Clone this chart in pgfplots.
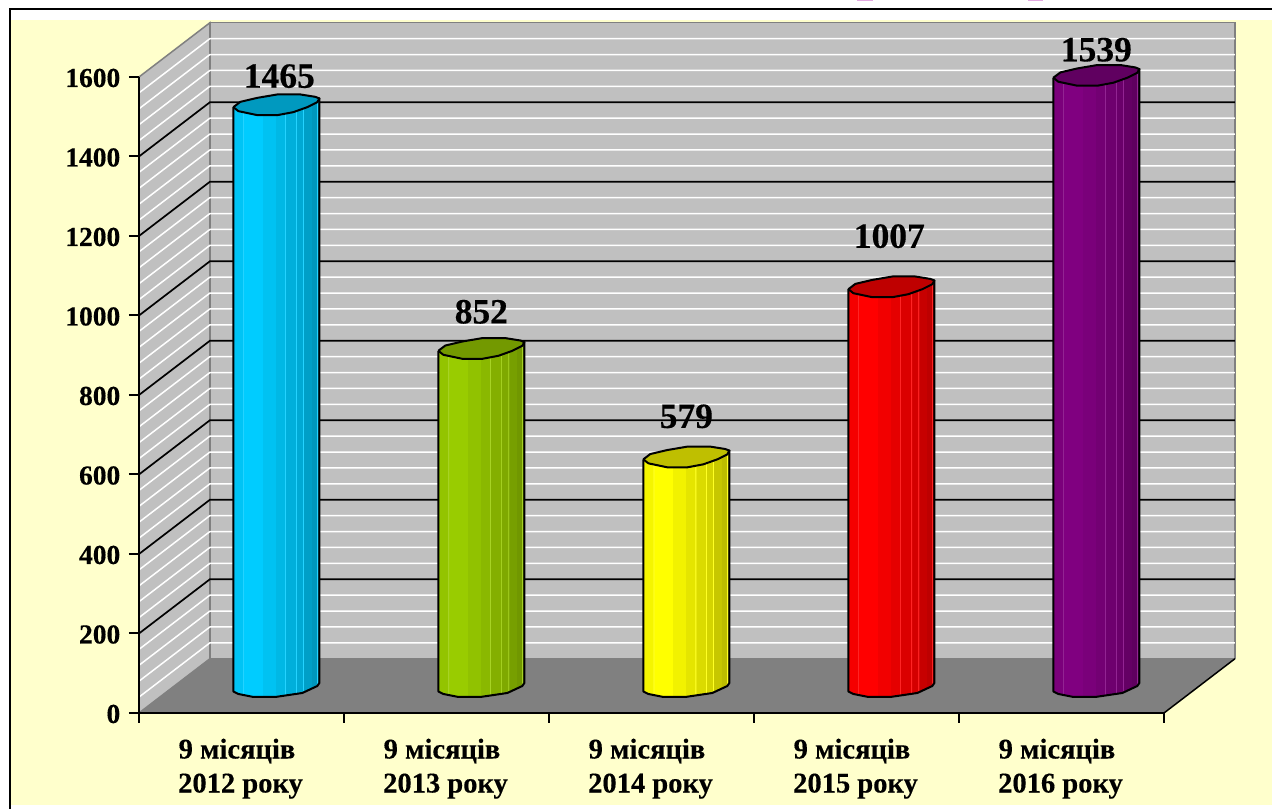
\documentclass[border=0pt]{standalone}
\usepackage{fontspec}
\setmainfont{Liberation Serif}[BoldFeatures={FakeBold=0.35}]
\usepackage{pgfplots}
\usepackage{pgfplotstable}
\pgfplotsset{compat=1.18}
\newlength\px
\setlength\px{0.75pt}

\definecolor{pagecream}{HTML}{FFFFCC}
\definecolor{wallgrey}{HTML}{C0C0C0}
\definecolor{floorgrey}{HTML}{808080}
\definecolor{titletrace}{HTML}{E2A8E0}
\definecolor{cylA}{HTML}{00CCFF}
\definecolor{cylB}{HTML}{99CC00}
\definecolor{cylC}{HTML}{FFFF00}
\definecolor{cylD}{HTML}{FF0000}
\definecolor{cylE}{HTML}{800080}

% Stepped side shading of a cylinder: flat facets, brightest left of centre,
% with a thin pale seam along some of the facet edges.
\newcommand\declarefacets[2]{%
  \pgfdeclarehorizontalshading{#1}{100bp}{%
    color(0bp)=(#2!96!black);
    color(30.5bp)=(#2!96!black);
    color(30.5bp)=(#2!86!white);
    color(31.1bp)=(#2!86!white);
    color(31.1bp)=(#2);
    color(41.9bp)=(#2);
    color(41.9bp)=(#2!95!black);
    color(49.4bp)=(#2!95!black);
    color(49.4bp)=(#2!90!black);
    color(54.9bp)=(#2!90!black);
    color(54.9bp)=(#2!86!white);
    color(55.5bp)=(#2!86!white);
    color(55.5bp)=(#2!86!black);
    color(61.3bp)=(#2!86!black);
    color(61.3bp)=(#2!86!white);
    color(61.9bp)=(#2!86!white);
    color(61.9bp)=(#2!83!black);
    color(65.4bp)=(#2!83!black);
    color(65.4bp)=(#2!86!white);
    color(66.0bp)=(#2!86!white);
    color(66.0bp)=(#2!78!black);
    color(70.3bp)=(#2!78!black);
    color(70.3bp)=(#2!74!black);
    color(73.5bp)=(#2!74!black);
    color(73.5bp)=(#2!86!white);
    color(74.1bp)=(#2!86!white);
    color(74.1bp)=(#2!68!black);
    color(100bp)=(#2!68!black)}}
\declarefacets{facetsA}{cylA}
\declarefacets{facetsB}{cylB}
\declarefacets{facetsC}{cylC}
\declarefacets{facetsD}{cylD}
\declarefacets{facetsE}{cylE}

% Outline of a cylinder's side; dx, dy are offsets from the axis of the cylinder
% and h selects the top (1) or the foot (0).
\pgfplotstableread{
dx  dy    h
-43 -4    1
-43 -6    0
-38 -8.5  0
-23 -11.5 0
-1  -11.5 0
26  -7.5  0
41  -0.5  0
43  2.5   0
43  4.7   1
-43 -4    1
}\sideoutline
% Outline of the cap.
\pgfplotstableread{
dx  dy
-43 -4
-38 -8
-19 -12
1   -12
17  -9
31  -4
41  1
43  4.7
39  6.3
24  8.7
1   8.7
-19 5.3
-36 1.3
-43 -4
}\capoutline
% Path of a grid line over the side wall and the back wall.
\pgfplotstableread{
x     d
0     0
0.346 136.5
5.346 136.5
}\wallpath

% #1 centre x, #2 value, #3 facet shading, #4 cap colour, #5 x shift and #6 y shift of the label (px)
\newcommand\cylinder[6]{%
  \addplot[forget plot, shade, shading=#3, draw=black, line width=2\px, line join=round]
    table[x expr=#1+\thisrow{dx}/205, y expr=69.2+\thisrow{h}*#2+\thisrow{dy}/0.3975] \sideoutline;
  \addplot[forget plot, fill=#4, draw=black, line width=2\px, line join=round]
    table[x expr=#1+\thisrow{dx}/205, y expr=69.2+#2+\thisrow{dy}/0.3975] \capoutline;
  \node[font=\fontsize{26.6}{30}\selectfont\bfseries, xshift=#5\px, yshift=#6\px, inner sep=0pt]
    at (axis cs:#1,{69.2+#2}) {#2};
}
% First line of a category label, set a little to the left of centre
\newcommand\monthsline{9 місяців\hspace*{7\px}}

\begin{document}
\begin{tikzpicture}
  % Slide background
  \path[use as bounding box, fill=white] (0,0) rectangle (1272\px,809\px);
  \fill[pagecream] (11\px,4\px) rectangle (1272\px,789\px);
  \draw[black, line width=2\px] (1272\px,799.5\px) -- (9.5\px,799.5\px) -- (9.5\px,0);
  \fill[titletrace] (857\px,807.5\px) rectangle (873\px,809\px);
  \fill[titletrace] (1028\px,807.5\px) rectangle (1043\px,809\px);

  \begin{axis}[
    at={(139\px,96\px)}, anchor=south west,
    scale only axis, width=1025\px, height=636\px,
    xmin=0, xmax=5, ymin=0, ymax=1600,
    clip=false, axis on top,
    axis x line*=bottom, axis y line*=left,
    axis line style={-, black, line width=2.3\px},
    tick align=outside,
    major tick length=10\px, minor tick length=10\px,
    xtick={0.5,1.5,2.5,3.5,4.5},
    minor xtick={0,1,2,3,4,5},
    major x tick style={draw=none},
    minor x tick style={black, line width=2\px},
    major y tick style={black, line width=2\px},
    ytick={0,200,400,600,800,1000,1200,1400,1600},
    xticklabels={{\monthsline\\2012 року},{\monthsline\\2013 року},{\monthsline\\2014 року},{\monthsline\\2015 року},{\monthsline\\2016 року}},
    xticklabel style={align=center, font=\fontsize{21.4}{25.5}\selectfont\bfseries, yshift=-11\px, xshift=-1\px},
    yticklabel style={font=\fontsize{20.6}{24}\selectfont\bfseries, xshift=-4\px, yshift=-1\px},
    /pgf/number format/assume math mode=true,
    /pgf/number format/1000 sep={},
  ]
    % Back wall, side wall and floor
    \addplot[forget plot, fill=wallgrey, draw=floorgrey, line width=1.5\px]
      coordinates {(0.346,136.5) (5.346,136.5) (5.346,1736.5) (0.346,1736.5) (0.346,136.5)};
    \addplot[forget plot, fill=wallgrey, draw=floorgrey, line width=1.5\px]
      coordinates {(0,0) (0.346,136.5) (0.346,1736.5) (0,1600) (0,0)};
    % Minor and major grid lines
    \pgfplotsinvokeforeach{40,80,120,160,240,280,320,360,440,480,520,560,640,680,720,760,840,880,920,960,1040,1080,1120,1160,1240,1280,1320,1360,1440,1480,1520,1560}{
      \addplot[forget plot, white, line width=1.5\px] table[x=x, y expr=#1+\thisrow{d}] \wallpath;
    }
    \addplot[forget plot, fill=floorgrey, draw=none]
      coordinates {(0,0) (5,0) (5.346,136.5) (0.346,136.5) (0,0)};
    \addplot[forget plot, black, line width=1.5\px] coordinates {(5,0) (5.346,136.5)};
    \pgfplotsinvokeforeach{200,400,600,800,1000,1200,1400}{
      \addplot[forget plot, black, line width=1.7\px] table[x=x, y expr=#1+\thisrow{d}] \wallpath;
    }
    % Cylinders
    \cylinder{0.670}{1465}{facetsA}{cylA!75!black}{3}{27}
    \cylinder{1.670}{852}{facetsB}{cylB!75!black}{0}{35}
    \cylinder{2.670}{579}{facetsC}{cylC!75!black}{0}{39}
    \cylinder{3.670}{1007}{facetsD}{cylD!75!black}{-2}{49}
    \cylinder{4.670}{1539}{facetsE}{cylE!75!black}{0}{24}
  \end{axis}
\end{tikzpicture}
\end{document}
